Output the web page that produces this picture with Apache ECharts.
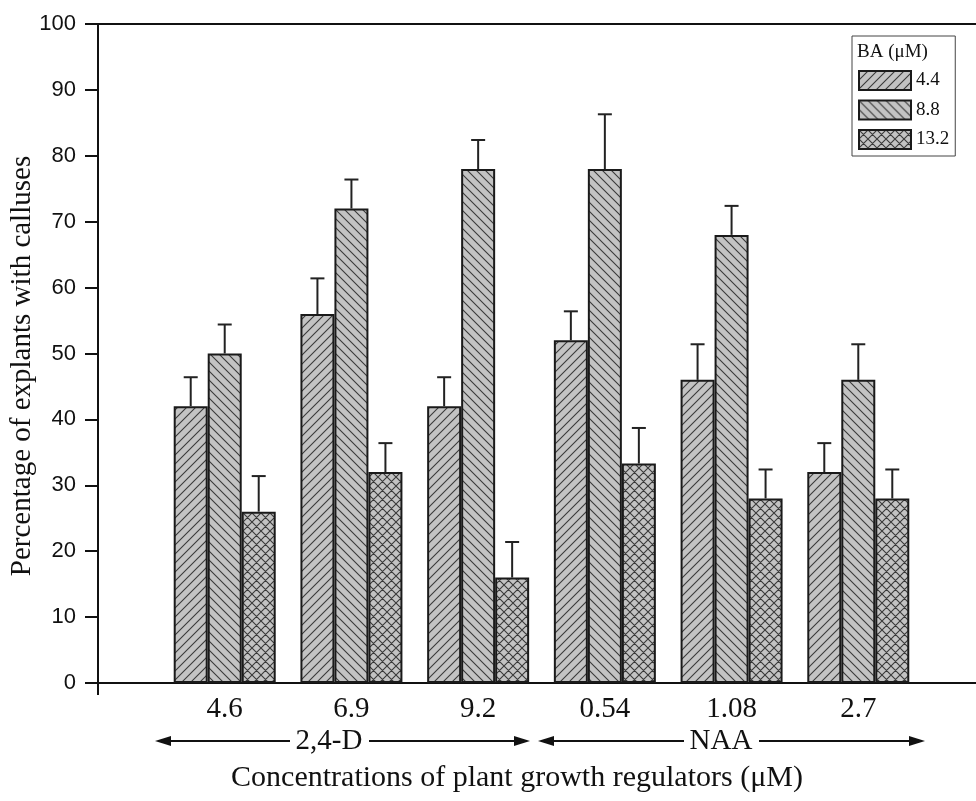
<!DOCTYPE html>
<html>
<head>
<meta charset="utf-8">
<script src="https://cdn.jsdelivr.net/npm/echarts@6/dist/echarts.min.js"></script>
<style>
  html, body { margin: 0; padding: 0; background: #fff; }
  #main { width: 976px; height: 801px; }
</style>
</head>
<body>
<div id="main"></div>
<script>
// concentrations on the x axis (empty ends keep the axis running past the groups)
var categories = ['', '4.6', '6.9', '9.2', '0.54', '1.08', '2.7', ''];
var baNames = ['4.4', '8.8', '13.2'];

// percentage of explants with calluses, one array per BA level
var ba44 = [42, 56, 42, 52, 46, 32];
var ba88 = [50, 72, 78, 78, 68, 46];
var ba132 = [26, 32, 16, 33.3, 28, 28];

// upper error (SE) for each bar
var err44 = [4.4, 5.4, 4.4, 4.4, 5.4, 4.4];
var err88 = [4.4, 4.4, 4.4, 8.3, 4.4, 5.4];
var err132 = [5.4, 4.4, 5.4, 5.4, 4.4, 4.4];

var serif = '"Liberation Serif", "Times New Roman", serif';
var sans = '"Liberation Sans", Arial, sans-serif';
var barWidth = 34;

/** 斜线填充 */
function makePattern(kind) {
    var s = 9;
    var c = document.createElement('canvas');
    c.width = s; c.height = s;
    var g = c.getContext('2d');
    g.fillStyle = '#c3c3c3';
    g.fillRect(0, 0, s, s);
    g.strokeStyle = '#3a3a3a';
    g.lineWidth = 1.1;
    g.beginPath();
    if (kind === 'fwd' || kind === 'cross') {
        g.moveTo(-1, s + 1); g.lineTo(s + 1, -1);
        g.moveTo(-1, 1); g.lineTo(1, -1);
        g.moveTo(s - 1, s + 1); g.lineTo(s + 1, s - 1);
    }
    if (kind === 'back' || kind === 'cross') {
        g.moveTo(-1, -1); g.lineTo(s + 1, s + 1);
        g.moveTo(s - 1, -1); g.lineTo(s + 1, 1);
        g.moveTo(-1, s - 1); g.lineTo(1, s + 1);
    }
    g.stroke();
    return {image: c, repeat: 'repeat'};
}

function toPoints(arr) {
    return arr.map(function (v, i) { return [i + 1, v]; });
}
function toErr(arr, err) {
    return arr.map(function (v, i) { return [i + 1, v, v + err[i]]; });
}

function barSeries(name, arr, kind) {
    return {
        name: name,
        type: 'bar',
        barWidth: barWidth,
        barGap: '0%',
        itemStyle: {
            color: makePattern(kind),
            borderColor: '#1a1a1a',
            borderWidth: 2
        },
        data: toPoints(arr)
    };
}

function errSeries(arr, err, slot) {
    return {
        type: 'custom',
        z: 5,
        renderItem: function (params, api) {
            var base = api.coord([api.value(0), api.value(1)]);
            var top = api.coord([api.value(0), api.value(2)]);
            var x = base[0] + (slot - 1) * barWidth;
            return {
                type: 'group',
                children: [{
                    type: 'line',
                    shape: {x1: x, y1: base[1], x2: x, y2: top[1]},
                    style: {stroke: '#222', lineWidth: 2}
                }, {
                    type: 'line',
                    shape: {x1: x - 7, y1: top[1], x2: x + 7, y2: top[1]},
                    style: {stroke: '#222', lineWidth: 2}
                }]
            };
        },
        encode: {x: 0, y: [1, 2]},
        data: toErr(arr, err)
    };
}

function arrow(x1, x2, y, tx1, tx2) {
    var head = 14, h = 5;
    return [
        {type: 'line', shape: {x1: x1 + head, y1: y, x2: tx1, y2: y}, style: {stroke: '#111', lineWidth: 2}},
        {type: 'line', shape: {x1: tx2, y1: y, x2: x2 - head, y2: y}, style: {stroke: '#111', lineWidth: 2}},
        {type: 'polygon', shape: {points: [[x1, y], [x1 + head + 2, y - h], [x1 + head + 2, y + h]]}, style: {fill: '#111'}},
        {type: 'polygon', shape: {points: [[x2, y], [x2 - head - 2, y - h], [x2 - head - 2, y + h]]}, style: {fill: '#111'}}
    ];
}

var chart = echarts.init(document.getElementById('main'));
chart.setOption({
    animation: false,
    backgroundColor: '#fff',
    grid: {left: 98, right: -9, top: 24, bottom: 118, containLabel: false, outerBoundsMode: 'none'},
    legend: {
        orient: 'vertical',
        left: 852,
        top: 36,
        padding: [34, 6, 6, 6],
        itemWidth: 52,
        itemHeight: 19,
        itemGap: 8.5,
        icon: 'rect',
        borderColor: '#444',
        borderWidth: 1,
        textStyle: {fontFamily: serif, fontSize: 19, color: '#111'},
        data: baNames
    },
    xAxis: [{
        type: 'category',
        data: categories,
        boundaryGap: false,
        axisLine: {lineStyle: {color: '#111', width: 2}},
        axisTick: {
            show: true,
            length: 12,
            interval: function (idx) { return idx === 0; },
            lineStyle: {color: '#111', width: 2}
        },
        axisLabel: {interval: 0, margin: 12, fontFamily: serif, fontSize: 29, color: '#111'},
        splitLine: {show: false}
    }, {
        type: 'category',
        position: 'top',
        data: categories,
        boundaryGap: false,
        axisLine: {lineStyle: {color: '#111', width: 2}},
        axisTick: {show: false},
        axisLabel: {show: false},
        splitLine: {show: false}
    }],
    yAxis: {
        type: 'value',
        min: 0,
        max: 100,
        interval: 10,
        axisLine: {show: true, lineStyle: {color: '#111', width: 2}},
        axisTick: {show: true, length: 13, lineStyle: {color: '#111', width: 2}},
        axisLabel: {margin: 22, fontFamily: sans, fontSize: 22, color: '#111'},
        splitLine: {show: false}
    },
    graphic: [
        {type: 'text', x: 22, y: 366, rotation: Math.PI / 2, style: {text: 'Percentage of explants with calluses', font: '29px ' + serif, fill: '#111', align: 'center', verticalAlign: 'middle'}},
        {type: 'text', left: 857, top: 43, style: {text: 'BA (μM)', font: '19px ' + serif, fill: '#111'}},
        {type: 'text', x: 517, y: 778, style: {text: 'Concentrations of plant growth regulators (μM)', font: '30px ' + serif, fill: '#111', align: 'center', verticalAlign: 'middle'}},
        {type: 'text', x: 329, y: 741, style: {text: '2,4-D', font: '29px ' + serif, fill: '#111', align: 'center', verticalAlign: 'middle'}},
        {type: 'text', x: 721, y: 741, style: {text: 'NAA', font: '29px ' + serif, fill: '#111', align: 'center', verticalAlign: 'middle'}}
    ].concat(arrow(155, 530, 741, 290, 369)).concat(arrow(538, 925, 741, 684, 759)),
    series: [
        barSeries('4.4', ba44, 'fwd'),
        barSeries('8.8', ba88, 'back'),
        barSeries('13.2', ba132, 'cross'),
        errSeries(ba44, err44, 0),
        errSeries(ba88, err88, 1),
        errSeries(ba132, err132, 2)
    ]
});
</script>
</body>
</html>
